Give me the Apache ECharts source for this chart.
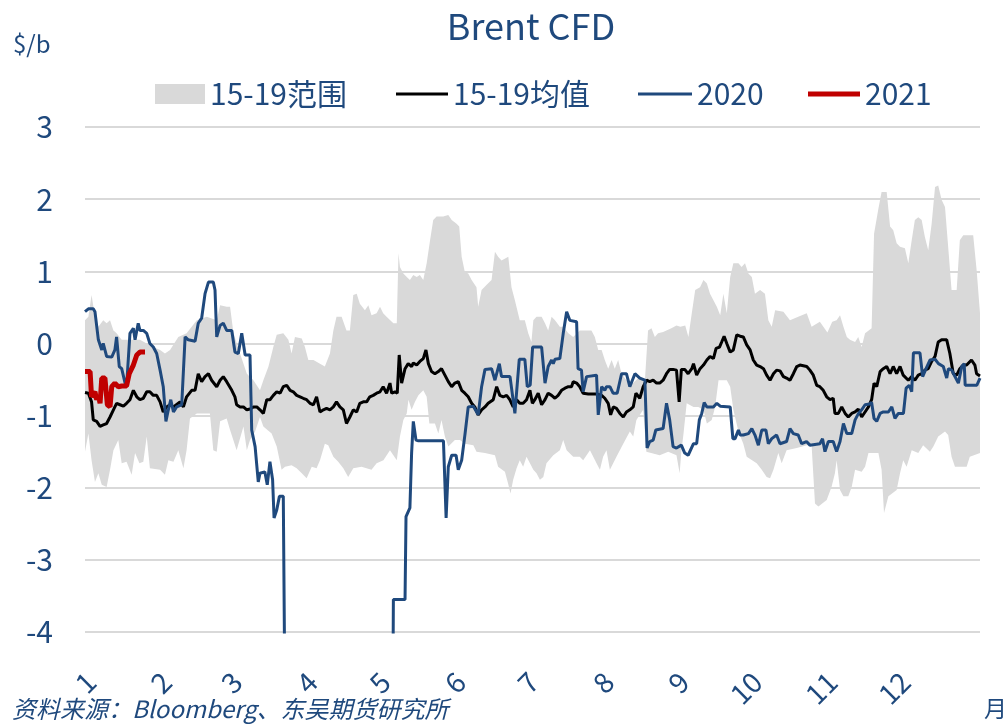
<!DOCTYPE html>
<html>
<head>
<meta charset="utf-8">
<title>Brent CFD</title>
<script src="https://cdn.jsdelivr.net/npm/echarts@6/dist/echarts.min.js"></script>
<style>
  html, body { margin: 0; padding: 0; background: #fff; }
  #main { width: 1005px; height: 726px; }
</style>
</head>
<body>
<div id="main"></div>
<script>
// x = days counted from the first trading day; month labels sit where the source put them
const months = ['1', '2', '3', '4', '5', '6', '7', '8', '9', '10', '11', '12'];
const monthStart = [2.5, 33.5, 62.5, 93.5, 123.5, 154.5, 184.5, 215.5, 246.5, 276.5, 307.5, 337.5];
const yTicks = [-4, -3, -2, -1, 0, 1, 2, 3];

// 15-19 range, upper edge
const bandHi = [
  [0,0.32],[1.4,0.37],[2.7,0.67],[4.1,0.37],[5.5,0.23],[7.5,0.32],[8.9,0.28],[10.3,0.32],[11.7,0.18],[13,0.14],
  [15.1,0.05],[17.1,0.05],[19.9,0.05],[22.6,0.05],[25.4,0],[28.1,-0.05],[30.9,-0.09],[32.9,-0.14],[35,-0.09],[38.4,0.09],
  [41.8,0.14],[46,0.32],[50.1,0.37],[54.2,0.32],[55.6,0.53],[58.3,0.51],[59.7,0.51],[61.1,0.14],[63.8,-0.14],[66.6,-0.42],
  [69.3,-0.51],[72,-0.65],[73.4,-0.51],[75.5,-0.32],[77.5,-0.05],[78.9,0.12],[81.6,0.14],[83.7,0.05],[85,-0.14],[86.4,0.09],
  [89.2,0.07],[90.5,-0.05],[91.9,-0.23],[94,-0.23],[96.7,-0.28],[98.7,-0.32],[100.8,-0.14],[102.2,0.18],[103.5,0.37],[105.6,0.37],
  [107.6,0.18],[109,0.18],[110.4,0.67],[111.8,0.69],[113.1,0.55],[115.2,0.46],[116.6,0.53],[117.9,0.39],[120,0.42],[121.4,0.51],
  [122.7,0.42],[124.1,0.37],[126.9,0.28],[128.3,0.28],[129,1.25],[129.6,1.06],[131,0.97],[132.4,0.92],[133.7,0.88],[135.1,0.95],
  [136.5,0.92],[137.8,0.95],[139.2,0.88],[140.6,1.11],[142,1.43],[143.3,1.71],[144.7,1.76],[147.4,1.76],[149.5,1.78],[150.9,1.71],
  [152.9,1.66],[154,1.62],[155,1.2],[156.3,0.99],[157.7,0.97],[159.1,0.88],[161.1,0.78],[161.8,0.51],[163.2,0.74],[165.2,0.81],
  [167.3,0.88],[168.7,1.27],[170,1.2],[171.4,1.15],[174.2,1.2],[175.5,0.78],[176.9,0.6],[178.9,0.32],[181,0.32],[182.4,0.14],
  [183.7,0.02],[184.5,0.32],[185.8,0.37],[187.9,0.37],[189.3,0.28],[190.6,0.18],[192,0.37],[193.4,0.32],[195.4,0.23],[196.8,0.23],
  [198.9,0.14],[200.9,0.09],[203.6,0.18],[208.4,0.18],[209.8,0.09],[211.2,-0.09],[212.6,-0.09],[213.9,-0.23],[215.3,-0.35],[216.7,-0.23],
  [218,-0.35],[219.4,-0.23],[220.8,-0.42],[222.8,-0.51],[225.6,-0.55],[228.3,-0.46],[230.4,-0.51],[231.7,0.18],[233.1,0.21],[234.5,0.09],
  [235.8,0.14],[237.9,0.16],[241.3,0.21],[243.4,0.25],[245,0.23],[247,0.25],[248.3,0.09],[249.7,0.42],[251.1,0.74],[253.1,0.78],
  [254.5,0.88],[255.9,0.83],[257.2,0.69],[258.6,0.6],[260,0.51],[261.4,0.39],[262.7,0.69],[264.1,0.42],[265.5,0.92],[266.8,1.11],
  [268.9,1.11],[270.2,1.06],[271.6,1.11],[273,0.97],[274.4,0.92],[275.7,0.69],[277.8,0.74],[279.8,0.69],[281.2,0.32],[282.6,0.23],
  [284,0.46],[287.4,0.44],[290.1,0.32],[293.5,0.37],[297,0.42],[299,0.23],[302.4,0.3],[305.5,0.15],[307.5,0.3],[309.3,0.32],
  [310.7,0.39],[312.1,0.23],[313.5,0.09],[314.8,0.05],[316.9,0.02],[318.2,0.09],[319.6,-0.05],[321,0.14],[323.7,0.21],[324.7,1.52],
  [326.5,1.87],[327.8,2.1],[329.9,2.1],[331.3,1.62],[332.6,1.57],[334,1.39],[335.4,1.34],[337.4,1.32],[338.8,1.11],[340.2,1.43],
  [341.5,1.71],[342.9,1.75],[344.3,1.71],[345.6,1.48],[347,1.29],[348.4,1.66],[349.8,2.17],[351.1,2.19],[352.5,1.99],[353.9,1.89],
  [355.2,1.34],[356.6,0.74],[358.7,0.74],[360,1.43],[361.4,1.5],[365.5,1.5],[366.9,1.02],[368.3,0.42]
];

// 15-19 range, lower edge
const bandLo = [
  [0,-1.5],[1.4,-1.25],[2.7,-1.62],[4.1,-1.92],[5.5,-1.8],[6.9,-1.96],[8.9,-1.99],[10.3,-1.75],[11.7,-1.48],[13.7,-1.34],
  [15.1,-1.66],[17.1,-1.64],[19.2,-1.82],[20.6,-1.52],[22.4,-1.66],[24,-1.64],[25.4,-1.29],[26.7,-1.73],[30.9,-1.75],[32.9,-1.82],
  [34.3,-1.62],[36.4,-1.64],[38.4,-1.48],[40.5,-1.73],[41.8,-1.48],[43.2,-1.04],[46,-0.97],[51.4,-0.97],[52.8,-1.48],[54.2,-1.5],
  [55.6,-1.08],[58.3,-1.04],[59.7,-1.2],[62.4,-1.48],[65.2,-1.15],[66.6,-1.48],[67.9,-1.34],[70,-1.22],[72,-1.02],[73.4,-1.15],
  [76.8,-1.25],[78.9,-1.43],[80.9,-1.75],[82.3,-1.71],[85,-1.69],[87.1,-1.73],[89.2,-1.8],[91.2,-1.87],[93.3,-1.71],[95.3,-1.73],
  [96.7,-1.62],[98.7,-1.39],[100.1,-1.41],[102.2,-1.57],[104.2,-1.64],[106.3,-1.73],[108.3,-1.85],[110.4,-1.73],[113.8,-1.71],[117.9,-1.75],
  [120,-1.66],[122.8,-1.62],[125.5,-1.48],[128.3,-1.62],[129.6,-1.29],[131,-1.06],[132.4,-0.97],[133.1,-0.78],[134.4,-0.92],[135.8,-0.81],
  [137.2,-0.72],[139.2,-0.65],[140.6,-0.74],[141.7,-1.11],[144,-1.11],[145.4,-1.25],[146.7,-1.06],[148.1,-1.29],[149.5,-1.43],[152.2,-1.34],
  [154.3,-1.34],[156.3,-1.39],[159.8,-1.41],[161.1,-1.5],[164.6,-1.52],[168.7,-1.55],[170,-1.71],[172.8,-1.78],[174.1,-1.94],[175.1,-2.08],
  [176.2,-1.89],[177.6,-1.73],[178.9,-1.62],[180.3,-1.71],[181.7,-1.57],[184.5,-1.75],[185.8,-1.8],[187.2,-1.89],[188.6,-1.85],[189.9,-1.66],
  [192.7,-1.55],[195.4,-1.48],[196.8,-1.34],[198.2,-1.48],[200.9,-1.57],[203.6,-1.57],[205,-1.62],[207.8,-1.48],[210.5,-1.66],[211.9,-1.75],
  [213.2,-1.57],[214.6,-1.48],[216,-1.75],[218.7,-1.57],[221.5,-1.39],[224.2,-1.22],[225.6,-1.29],[226.9,-1.06],[229.7,-0.92],[231,-1.5],
  [236.5,-1.55],[240,-1.5],[243.4,-1.55],[244.7,-1.8],[245.4,-1.5],[246.3,-1.25],[247.6,-0.83],[250.4,-0.88],[252.4,-0.88],[254.5,-0.92],
  [255.9,-1.11],[257.9,-1.06],[259.3,-0.88],[260.7,-0.51],[264.1,-0.51],[265.5,-0.6],[266.8,-0.92],[268.9,-1.22],[270.9,-1.39],[272.3,-1.57],
  [276.4,-1.66],[278.5,-1.75],[280.5,-1.85],[281.9,-1.87],[283.3,-1.75],[285.3,-1.52],[286.7,-1.66],[288.7,-1.48],[292.9,-1.45],[297,-1.41],
  [299,-1.41],[300.4,-2.22],[301.8,-2.26],[305.2,-2.17],[307.2,-1.99],[308.6,-1.8],[309.3,-1.62],[310.7,-2.03],[312.1,-2.12],[314.1,-2.12],
  [315.5,-1.99],[316.9,-1.75],[319.6,-1.78],[321,-1.71],[322.4,-1.52],[326.5,-1.52],[327.8,-1.75],[328.8,-2.35],[330.6,-2.12],[334,-2.03],
  [335.4,-1.8],[336.7,-1.62],[338.1,-1.71],[340.2,-1.48],[342.9,-1.52],[344.9,-1.41],[347.7,-1.5],[349.1,-1.43],[351.1,-1.29],[353.9,-1.22],
  [355.2,-1.27],[356.6,-1.57],[358,-1.71],[362.8,-1.71],[364.1,-1.57],[368.3,-1.52]
];

// 15-19 average
const avg1519 = [
  [0,-0.68],[1.4,-0.69],[2.7,-0.81],[3.4,-1.06],[4.8,-1.08],[6.2,-1.15],[7.5,-1.13],[8.9,-1.11],[10.3,-1.02],[11.7,-0.92],
  [13,-0.83],[14.4,-0.85],[15.8,-0.87],[17.1,-0.83],[18.5,-0.78],[19.9,-0.65],[21.3,-0.74],[22.6,-0.78],[24,-0.76],[25.4,-0.67],
  [26.7,-0.67],[28.1,-0.72],[29.5,-0.72],[30.9,-0.81],[32.2,-0.95],[33.6,-0.88],[35,-0.85],[36.4,-0.88],[39.1,-0.81],[40.5,-0.88],
  [41.8,-0.74],[43.9,-0.65],[45.3,-0.65],[46.6,-0.42],[48,-0.53],[49.4,-0.46],[50.8,-0.42],[52.1,-0.51],[54.2,-0.6],[55.6,-0.51],
  [56.9,-0.46],[58.3,-0.53],[60.4,-0.65],[61.7,-0.74],[62.4,-0.85],[63.8,-0.88],[65.2,-0.88],[66.6,-0.92],[67.9,-0.91],[69.3,-0.88],
  [70.7,-0.88],[72,-0.92],[73.4,-0.97],[74.8,-0.78],[76.1,-0.78],[77.5,-0.72],[78.9,-0.67],[80.3,-0.69],[81.6,-0.6],[83,-0.58],
  [84.4,-0.65],[85.7,-0.67],[87.1,-0.72],[88.5,-0.74],[89.8,-0.76],[91.2,-0.78],[92.6,-0.83],[94,-0.85],[95.3,-0.74],[96.7,-0.95],
  [98.1,-0.92],[99.4,-0.9],[100.8,-0.92],[102.2,-0.88],[103.5,-0.81],[104.9,-0.88],[106.3,-0.92],[107.6,-1.11],[109,-1.02],[110.4,-0.92],
  [111.8,-0.95],[113.1,-0.83],[114.5,-0.81],[115.9,-0.81],[117.2,-0.74],[118.6,-0.72],[120,-0.69],[121.4,-0.67],[122.7,-0.6],[124.1,-0.69],
  [125.5,-0.55],[126.2,-0.69],[127.6,-0.67],[128.5,-0.69],[129.3,-0.16],[130.3,-0.55],[131.7,-0.35],[133,-0.28],[134.4,-0.32],[135.1,-0.27],
  [136.5,-0.3],[137.8,-0.25],[139.2,-0.21],[140.3,-0.09],[141.3,-0.28],[142.6,-0.39],[144,-0.42],[145.4,-0.39],[146.7,-0.35],[148.1,-0.44],
  [149.5,-0.53],[150.9,-0.6],[152.2,-0.55],[153.6,-0.53],[155,-0.65],[156.3,-0.69],[157.7,-0.74],[159.1,-0.83],[160.4,-0.88],[161.8,-0.99],
  [163.2,-0.92],[164.6,-0.88],[165.9,-0.83],[168,-0.78],[169.4,-0.6],[170.7,-0.72],[172.1,-0.74],[173.5,-0.72],[174.8,-0.78],[176.2,-0.88],
  [177.6,-0.78],[178.9,-0.83],[180.3,-0.83],[181.7,-0.78],[183.1,-0.65],[184.1,-0.83],[185.1,-0.78],[186.5,-0.69],[187.9,-0.85],[189.3,-0.78],
  [190.6,-0.69],[192,-0.72],[193.4,-0.76],[194.7,-0.72],[196.1,-0.65],[197.5,-0.62],[198.9,-0.6],[200.2,-0.6],[200.9,-0.53],[202.3,-0.55],
  [203.6,-0.6],[205,-0.69],[207.1,-0.7],[210.5,-0.7],[212.6,-0.72],[213.9,-0.76],[215.3,-0.83],[216.3,-0.99],[217.4,-0.88],[218.7,-0.9],
  [220.1,-0.97],[221.5,-1.02],[222.8,-0.95],[224.2,-0.92],[225.6,-0.88],[226.7,-0.69],[228.3,-0.76],[229.7,-0.6],[231.1,-0.51],[232.4,-0.53],
  [233.8,-0.51],[235.2,-0.55],[236.5,-0.55],[237.9,-0.51],[239.3,-0.42],[240.6,-0.36],[242,-0.36],[243.4,-0.37],[244.5,-0.81],[245.4,-0.36],
  [246.8,-0.36],[248.2,-0.42],[249.7,-0.35],[250.4,-0.28],[251.7,-0.44],[253.1,-0.35],[254.5,-0.3],[255.9,-0.23],[257.2,-0.18],[258.6,-0.21],
  [259.7,-0.07],[261.1,-0.05],[262,0.02],[263,0.1],[264.1,0],[265.5,-0.12],[266.8,-0.09],[268.2,0.12],[269.6,0.1],[270.9,0.09],
  [272.3,-0.02],[273.7,-0.09],[275,-0.23],[276.4,-0.3],[277.8,-0.32],[279.2,-0.35],[280.5,-0.44],[281.9,-0.51],[283.3,-0.42],[284.6,-0.37],
  [286,-0.38],[287.4,-0.46],[288.7,-0.48],[290.1,-0.51],[291.5,-0.42],[292.9,-0.32],[294.2,-0.3],[295.6,-0.31],[297,-0.32],[298.3,-0.37],
  [299.7,-0.44],[301.1,-0.58],[302.4,-0.6],[303.8,-0.65],[305.2,-0.74],[306.6,-0.78],[307.9,-0.76],[308.6,-0.97],[310,-0.97],[311.4,-0.88],
  [312.8,-0.97],[314.1,-1.02],[315.5,-0.97],[316.9,-0.95],[318.2,-0.91],[319.6,-1.02],[321,-0.95],[322.4,-0.88],[323.7,-0.78],[324.7,-0.55],
  [325.8,-0.6],[327.2,-0.39],[328.5,-0.35],[329.9,-0.32],[331.3,-0.42],[332.6,-0.32],[334,-0.42],[335.4,-0.32],[336.7,-0.44],[338.8,-0.51],
  [340.2,-0.46],[341.5,-0.51],[342.9,-0.44],[344.3,-0.42],[345.6,-0.37],[347,-0.35],[348.4,-0.25],[349.8,-0.18],[351.1,0.02],[352.5,0.05],
  [354.6,0.05],[355.9,-0.14],[357.3,-0.42],[358.7,-0.44],[360,-0.35],[361.4,-0.3],[362.8,-0.3],[364.8,-0.23],[366.2,-0.3],[366.9,-0.42],
  [368.3,-0.45]
];

// 2020 (runs far below -4 in April, clipped by the grid)
const y2020 = [
  [0,0.44],[0.7,0.42],[1.4,0.48],[3.4,0.48],[4.1,0.44],[5.5,0.05],[6.9,-0.09],[7.5,0],[8.9,-0.18],[11,-0.19],
  [12.3,-0.09],[13,0.09],[14.1,-0.32],[15.1,-0.35],[16.5,-0.55],[17.1,-0.6],[18.5,0.14],[19.9,0.21],[20.6,0.05],[21.9,0.28],
  [22.6,0.18],[24,0.18],[25.4,0.14],[26.7,0],[28.1,-0.05],[29.5,-0.14],[30.9,-0.37],[32.2,-0.6],[33.3,-1.08],[34.3,-0.92],
  [35.3,-0.78],[36.4,-0.95],[37.7,-0.88],[39.8,-0.85],[41.2,0.09],[42.5,0.05],[45.3,0.03],[46.6,0.28],[48,0.35],[49.4,0.69],
  [50.8,0.85],[52.8,0.85],[53.5,0.74],[54.2,0.09],[55.6,0.25],[56.9,0.28],[58.3,0.18],[60.4,0.18],[61.7,-0.12],[63.1,-0.14],
  [64.5,0.14],[65.9,-0.16],[67.9,-0.16],[68.6,-1.2],[70,-1.43],[71.3,-1.92],[72,-1.8],[72.7,-1.78],[74,-1.78],[75,-1.96],
  [76.1,-1.64],[77.2,-1.89],[77.8,-2.42],[78.9,-2.31],[80,-2.12],[81.6,-2.12],[82.4,-5.5],[126.6,-5.5],[126.9,-3.55],[131.7,-3.55],
  [132.1,-2.4],[133.7,-2.28],[134.4,-1.52],[135.1,-1.08],[136.2,-1.34],[137.2,-1.35],[147.5,-1.35],[148.6,-2.42],[149.5,-1.71],[150.9,-1.55],
  [152.7,-1.55],[153.6,-1.75],[155,-1.62],[156.4,-1.25],[157.7,-0.88],[159.8,-0.87],[161.8,-0.99],[163.2,-0.6],[164.6,-0.36],[167.3,-0.35],
  [168.7,-0.51],[170.5,-0.28],[171.4,-0.46],[174.9,-0.46],[176.9,-0.97],[178.7,-0.22],[181,-0.22],[182,-0.6],[183.2,-0.58],[184.2,-0.05],
  [187.9,-0.05],[189.3,-0.55],[190.6,-0.32],[192,-0.23],[192.7,-0.28],[193.4,-0.22],[195.4,-0.21],[196.8,0.14],[198.2,0.44],[199.5,0.32],
  [202.3,0.3],[202.9,-0.35],[204.3,-0.37],[205,-0.67],[206.4,-0.46],[210.5,-0.44],[211.2,-0.99],[212.6,-0.6],[213.9,-0.65],[214.6,-0.6],
  [216,-0.6],[217.3,-0.69],[219,-0.69],[220.8,-0.42],[222.8,-0.42],[224.2,-0.6],[226.3,-0.42],[228.3,-0.48],[230.4,-0.51],[231.3,-1.45],
  [232.4,-1.36],[233.8,-1.34],[234.9,-1.2],[237.9,-1.18],[239.3,-0.83],[240.6,-1.06],[242,-1.43],[243.4,-1.45],[245.4,-1.41],[246.8,-1.52],
  [248.2,-1.55],[249,-1.57],[250.4,-1.39],[251.7,-1.39],[252.8,-1.06],[253.8,-0.97],[254.8,-0.82],[255.9,-0.88],[258.6,-0.88],[260,-0.83],
  [261.4,-0.87],[265.5,-0.88],[266.6,-1.32],[267.5,-1.32],[268.9,-1.2],[269.6,-1.27],[270.9,-1.27],[273,-1.25],[274.4,-1.18],[275.7,-1.27],
  [277.1,-1.41],[278.5,-1.2],[280.2,-1.2],[281.2,-1.39],[282.6,-1.32],[284.6,-1.27],[286,-1.39],[288.7,-1.36],[290.1,-1.18],[291.5,-1.25],
  [293.5,-1.27],[294.9,-1.39],[296.9,-1.36],[298.3,-1.41],[302.4,-1.39],[303.5,-1.32],[304.5,-1.5],[305.9,-1.36],[307.9,-1.36],[309.3,-1.5],
  [310.7,-1.36],[312.1,-1.11],[313.5,-1.25],[315.5,-1.25],[316.9,-1.06],[318.3,-0.97],[319.6,-0.92],[321,-0.85],[322.8,-0.84],[323.7,-0.82],
  [324.7,-1.04],[325.8,-1.08],[327.2,-0.97],[328.5,-0.95],[330.6,-0.95],[332,-0.88],[333.3,-1.04],[334.7,-0.97],[336.8,-0.97],[337.9,-0.62],
  [339.2,-0.58],[340.2,-0.67],[340.9,-0.13],[343.6,-0.13],[344.7,-0.46],[346.1,-0.35],[347.7,-0.23],[349.8,-0.22],[351.2,-0.28],[353.2,-0.32],
  [354.6,-0.48],[355.3,-0.35],[356.7,-0.37],[357.4,-0.42],[359.4,-0.55],[360.8,-0.32],[361.8,-0.28],[362.2,-0.58],[367,-0.58],[368.3,-0.48]
];

// 2021 so far
const y2021 = [
  [0,-0.39],[2.1,-0.39],[2.7,-0.74],[4.1,-0.67],[4.8,-0.78],[5.5,-0.72],[6.2,-0.83],[6.9,-0.48],[8.2,-0.48],[9.2,-0.85],
  [10.3,-0.88],[11,-0.6],[12.3,-0.55],[13.7,-0.6],[15.1,-0.59],[17.1,-0.59],[18.2,-0.42],[19.9,-0.3],[21.3,-0.16],[22.6,-0.12],
  [24.7,-0.12]
];

const navy = '#1F497D';
const font = '"Noto Sans CJK SC", "Noto Sans", sans-serif';

const myChart = echarts.init(document.getElementById('main'));

// one legend per item so each can sit where the source put it
function legendAt(left, name, color, w, h) {
  return {
    data: [{ name: name, icon: 'rect', itemStyle: { color: color } }],
    left: left,
    top: 79,
    padding: 0,
    itemWidth: w,
    itemHeight: h,
    textStyle: { color: navy, fontSize: 30, fontFamily: font }
  };
}

const option = {
  backgroundColor: '#fff',
  animation: false,
  title: {
    text: 'Brent CFD',
    left: 531,
    top: 8,
    textAlign: 'center',
    padding: 0,
    textStyle: { color: navy, fontSize: 36, fontWeight: 'normal', fontFamily: font }
  },
  legend: [
    legendAt(155, '15-19范围', '#D9D9D9', 50, 20),
    legendAt(396, '15-19均值', '#000', 52, 3),
    legendAt(638, '2020', navy, 54, 3),
    legendAt(808, '2021', '#C00000', 52, 5)
  ],
  graphic: [
    { type: 'text', left: 13, top: 32, style: { text: '$/b', fill: navy, fontSize: 24, fontFamily: font } },
    { type: 'text', left: 984, top: 697, style: { text: '月', fill: navy, fontSize: 23, fontFamily: font } },
    {
      type: 'text', left: 12, top: 697,
      style: { text: '资料来源：Bloomberg、东吴期货研究所', fill: navy, fontSize: 24, fontStyle: 'italic', fontFamily: font }
    }
  ],
  grid: { left: 85, right: 25, top: 127, bottom: 94, containLabel: false },
  xAxis: {
    type: 'value',
    min: 0,
    max: 368.3,
    axisLine: { show: false },
    axisTick: { show: false },
    splitLine: { show: false },
    axisLabel: {
      customValues: monthStart,
      rotate: 45,
      margin: 45,
      color: navy,
      fontSize: 28,
      fontFamily: font,
      formatter: function (v) {
        const i = monthStart.indexOf(v);
        return i >= 0 ? months[i] : '';
      }
    }
  },
  yAxis: {
    type: 'value',
    min: yTicks[0],
    max: yTicks[yTicks.length - 1],
    interval: 1,
    axisLine: { show: false },
    axisTick: { show: false },
    axisLabel: { color: navy, fontSize: 30, fontFamily: font, margin: 32 },
    splitLine: { lineStyle: { color: '#D9D9D9', width: 2 } }
  },
  series: [
    {
      // range band drawn as one polygon between the upper and lower edges
      name: '15-19范围',
      type: 'custom',
      silent: true,
      itemStyle: { color: '#D9D9D9' },
      data: [[0, 0]],
      renderItem: function (params, api) {
        const pts = bandHi.map(p => api.coord(p))
          .concat(bandLo.slice().reverse().map(p => api.coord(p)));
        return { type: 'polygon', shape: { points: pts }, style: { fill: '#D9D9D9' } };
      }
    },
    {
      name: '15-19均值',
      type: 'line',
      data: avg1519,
      symbol: 'none',
      lineStyle: { color: '#000', width: 3 },
      itemStyle: { color: '#000' }
    },
    {
      name: '2020',
      type: 'line',
      data: y2020,
      symbol: 'none',
      clip: true,
      lineStyle: { color: navy, width: 3 },
      itemStyle: { color: navy }
    },
    {
      name: '2021',
      type: 'line',
      data: y2021,
      symbol: 'none',
      lineStyle: { color: '#C00000', width: 5 },
      itemStyle: { color: '#C00000' }
    }
  ]
};

myChart.setOption(option);
</script>
</body>
</html>
